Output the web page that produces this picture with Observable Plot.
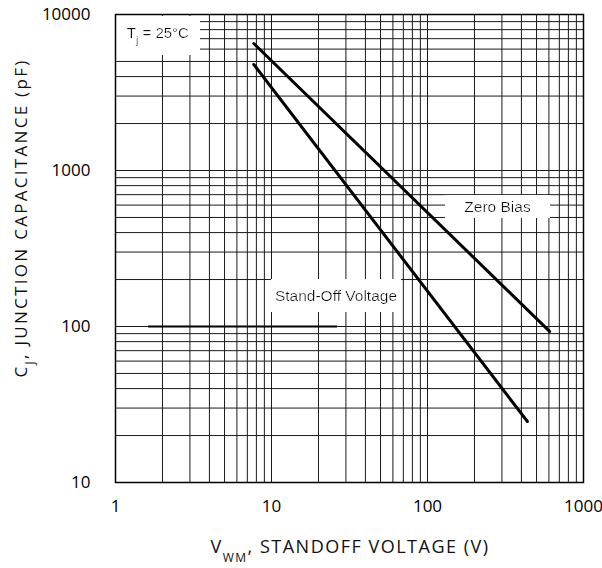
<!DOCTYPE html>
<html>
<head>
<meta charset="utf-8">
<script src="https://cdn.jsdelivr.net/npm/d3@7"></script>
<script src="https://cdn.jsdelivr.net/npm/@observablehq/plot@0.6"></script>
<style>
  html, body { margin: 0; padding: 0; background: #fff; }
</style>
</head>
<body>
<div id="chart"></div>
<script>
// Tick labels / decades
const xTicks = [1, 10, 100, 1000];
const yTicks = [10, 100, 1000, 10000];
const minorSteps = [1, 2, 3, 4, 5, 6, 7, 8, 9];

// Series (V, pF)
const zeroBiasV = [7.7, 606];
const zeroBiasC = [6520, 93];
const standOffV = [7.7, 437];
const standOffC = [4780, 24.6];

// Annotations
const labelText = ["Zero Bias", "Stand-Off Voltage"];
const labelV = [281, 25.9];
const labelC = [580, 156];
const tjText = "Tj = 25°C";
const tjV = 1.18;
const tjC = 7550;

// darker stray segment at 100 pF in the scan
const strayV = [1.63, 26.5];
const strayC = 100;

const xGrid = xTicks.slice(0, -1).flatMap(d => minorSteps.map(m => d * m)).concat([1000]);
const yGrid = yTicks.slice(0, -1).flatMap(d => minorSteps.map(m => d * m)).concat([10000]);

const zeroBias = zeroBiasV.map((v, i) => ({v, c: zeroBiasC[i]}));
const standOff = standOffV.map((v, i) => ({v, c: standOffC[i]}));
const labels = labelText.map((t, i) => ({t, v: labelV[i], c: labelC[i]}));
const tj = [{t: tjText, v: tjV, c: tjC}];

const annoFont = "'Liberation Sans', Arial, sans-serif";

const plot = Plot.plot({
  width: 602,
  height: 568,
  marginLeft: 115,
  marginRight: 19,
  marginTop: 14,
  marginBottom: 86,
  style: {fontFamily: "'Open Sans', sans-serif", fontSize: "17px", background: "#fff", color: "#000"},
  x: {type: "log", domain: [1, 1000], ticks: xTicks, tickFormat: d => String(d), tickSize: 0, tickPadding: 17, label: null},
  y: {type: "log", domain: [10, 10000], ticks: yTicks, tickFormat: d => String(d), tickSize: 0, tickPadding: 25, label: null},
  marks: [
    Plot.ruleX(xGrid, {stroke: "#1a1a1a", strokeWidth: 1}),
    Plot.ruleY(yGrid, {stroke: "#1a1a1a", strokeWidth: 1}),
    Plot.ruleY([strayC], {x1: strayV[0], x2: strayV[1], stroke: "#000", strokeWidth: 2}),
    Plot.line(zeroBias, {x: "v", y: "c", stroke: "#000", strokeWidth: 3}),
    Plot.line(standOff, {x: "v", y: "c", stroke: "#000", strokeWidth: 3}),
    Plot.text(labels, {x: "v", y: "c", text: "t", fill: "#111", fontFamily: annoFont, fontSize: 15.5}),
    Plot.text(tj, {x: "v", y: "c", text: "t", textAnchor: "start", fill: "#111", fontFamily: annoFont, fontSize: 15}),
    Plot.frame({stroke: "#000", strokeWidth: 1.5})
  ]
});

const svg = d3.select(plot);

// white box backgrounds via filters (rectangular, like the reference)
const defs = svg.insert("defs", ":first-child");
function bgFilter(id, x, y, w, h) {
  const f = defs.append("filter").attr("id", id)
    .attr("x", x).attr("y", y).attr("width", w).attr("height", h);
  f.append("feFlood").attr("flood-color", "#fff").attr("result", "bg");
  f.append("feComposite").attr("in", "SourceGraphic").attr("in2", "bg").attr("operator", "over");
}
bgFilter("bg-zero", -0.28, -0.15, 1.56, 1.3);
bgFilter("bg-stand", -0.03, -0.45, 1.06, 1.9);
bgFilter("bg-tj", -0.16, -0.35, 1.32, 1.7);

const filterFor = {"Zero Bias": "bg-zero", "Stand-Off Voltage": "bg-stand"};
filterFor[tjText] = "bg-tj";
svg.selectAll("text").each(function() {
  const id = filterFor[this.textContent];
  if (id) d3.select(this).attr("filter", `url(#${id})`);
});

// subscript in the Tj annotation
svg.selectAll("text").filter(function() { return this.textContent === tjText; }).each(function() {
  const t = d3.select(this);
  t.text(null);
  t.append("tspan").text("T");
  t.append("tspan").attr("baseline-shift", "sub").attr("font-size", 11).text("j");
  t.append("tspan").text(" = 25°C");
});

// Y axis title
const yt = svg.append("text")
  .attr("transform", "translate(22,218) rotate(-90)")
  .attr("text-anchor", "middle")
  .attr("dominant-baseline", "middle")
  .attr("font-family", "'Open Sans', sans-serif")
  .attr("font-size", 17)
  .attr("letter-spacing", "2.3px")
  .attr("fill", "#111");
yt.append("tspan").text("C");
yt.append("tspan").attr("baseline-shift", "sub").attr("font-size", 12).text("J");
yt.append("tspan").text(", JUNCTION CAPACITANCE (pF)");

// X axis title
const xt = svg.append("text")
  .attr("x", 350)
  .attr("y", 553)
  .attr("text-anchor", "middle")
  .attr("font-family", "'Open Sans', sans-serif")
  .attr("font-size", 18)
  .attr("letter-spacing", "1.5px")
  .attr("fill", "#111");
xt.append("tspan").text("V");
xt.append("tspan").attr("baseline-shift", "sub").attr("font-size", 12).text("WM");
xt.append("tspan").text(", STANDOFF VOLTAGE (V)");

document.getElementById("chart").appendChild(plot);
</script>
</body>
</html>
